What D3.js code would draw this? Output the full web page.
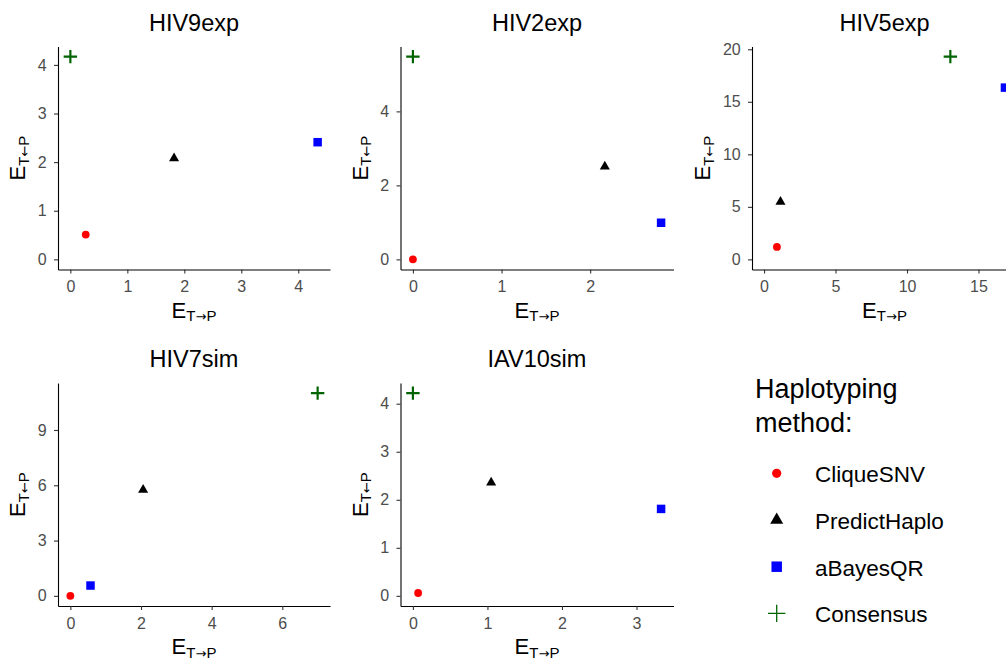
<!DOCTYPE html>
<html>
<head>
<meta charset="utf-8">
<script src="https://cdn.jsdelivr.net/npm/d3@7"></script>
<style>
body { margin: 0; background: #fff; }
text { font-family: "Liberation Sans", Arial, sans-serif; }
</style>
</head>
<body>
<div id="chart"></div>
<script>
// facets and methods
var datasets = ["HIV9exp", "HIV2exp", "HIV5exp", "HIV7sim", "IAV10sim"];
var methods = ["CliqueSNV", "PredictHaplo", "aBayesQR", "Consensus"];

// E(T->P) on x, E(T<-P) on y, one value per dataset
var cliqueX  = [0.27, 0,     0.90,  0,    0.07];
var cliqueY  = [0.51, 0,     1.18,  0,    0.06];
var predictX = [1.82, 2.165, 1.15,  2.06, 1.05];
var predictY = [2.08, 2.51,  5.48,  5.75, 2.36];
var abayesX  = [4.34, 2.80,  16.85, 0.57, 3.33];
var abayesY  = [2.41, 0.99,  16.35, 0.56, 1.81];
var consX    = [0,    0,     13.03, 7.0,  0];
var consY    = [4.17, 5.48,  19.3,  11.0, 4.22];

// tick labels per facet
var xTicks = [[0, 1, 2, 3, 4], [0, 1, 2], [0, 5, 10, 15], [0, 2, 4, 6], [0, 1, 2, 3]];
var yTicks = [[0, 1, 2, 3, 4], [0, 2, 4], [0, 5, 10, 15, 20], [0, 3, 6, 9], [0, 1, 2, 3, 4]];

var seriesX = [cliqueX, predictX, abayesX, consX];
var seriesY = [cliqueY, predictY, abayesY, consY];
var colors = ["#ff0000", "#000000", "#0000ff", "#006400"];

var svg = d3.select("#chart").append("svg")
        .attr("width", 1006)
        .attr("height", 662);

// panel boxes (theme_classic facet_wrap, 3 columns)
var panelLeft = [58, 400.5, 752, 58, 400.5];
var panelTop = [46.5, 46.5, 46.5, 383, 383];
var panelW = [272, 273, 265, 272, 273];
var panelH = 223;

function padded(vals) {
    var lo = Math.min(0, d3.min(vals));
    var hi = d3.max(vals);
    var pad = 0.05 * (hi - lo);
    return [lo - pad, hi + pad];
}

function markPath(k, big) {
    if (k == 1) return d3.symbol(d3.symbolTriangle, big ? 73 : 44)();
    if (k == 2) return d3.symbol(d3.symbolSquare, big ? 110 : 72)();
    var h = big ? 8.7 : 6.7;
    return "M" + (-h) + ",0H" + h + "M0," + (-h) + "V" + h;
}

function drawMark(g, k, cx, cy, big) {
    if (k == 0) {
        g.append("circle")
            .attr("cx", cx).attr("cy", cy)
            .attr("r", big ? 4.6 : 3.9)
            .attr("fill", colors[k]);
    } else if (k == 3) {
        g.append("path")
            .attr("d", markPath(k, big))
            .attr("transform", "translate(" + cx + "," + cy + ")")
            .attr("fill", "none")
            .attr("stroke", colors[k])
            .attr("stroke-width", big ? 1.3 : 2.2);
    } else {
        g.append("path")
            .attr("d", markPath(k, big))
            .attr("transform", "translate(" + cx + "," + cy + ")")
            .attr("fill", colors[k]);
    }
}

// "E" with a T-arrow-P subscript
function eLabel(t, arrow) {
    t.append("tspan").text("E");
    t.append("tspan").attr("font-size", 15).attr("dy", 3.4).text("T");
    t.append("tspan").attr("font-size", 13).attr("font-family", "DejaVu Sans")
        .text(arrow);
    t.append("tspan").attr("font-size", 15).text("P");
}

function drawPanel(i) {
    var left = panelLeft[i], top = panelTop[i];
    var xs = seriesX.map(function(s) { return s[i]; });
    var ys = seriesY.map(function(s) { return s[i]; });

    var x = d3.scaleLinear().domain(padded(xs)).range([left, left + panelW[i]]);
    var y = d3.scaleLinear().domain(padded(ys)).range([top + panelH, top]);

    var g = svg.append("g");

    // facet title
    g.append("text")
        .attr("x", left + panelW[i] / 2)
        .attr("y", top - 16)
        .attr("text-anchor", "middle")
        .attr("font-size", 23.5)
        .attr("fill", "#000")
        .text(datasets[i]);

    var fmt = d3.format("d");
    var xAxis = g.append("g")
        .attr("transform", "translate(0," + (top + panelH) + ")")
        .call(d3.axisBottom(x).tickValues(xTicks[i]).tickFormat(fmt)
              .tickSize(4).tickSizeOuter(0).tickPadding(7.5));
    var yAxis = g.append("g")
        .attr("transform", "translate(" + left + ",0)")
        .call(d3.axisLeft(y).tickValues(yTicks[i]).tickFormat(fmt)
              .tickSize(4).tickSizeOuter(0).tickPadding(7.3));

    [xAxis, yAxis].forEach(function(a) {
        a.select(".domain").attr("stroke", "#000").attr("stroke-width", 1.1);
        a.selectAll(".tick line").attr("stroke", "#333").attr("stroke-width", 1.1);
        a.selectAll(".tick text")
            .attr("font-family", "Liberation Sans, Arial, sans-serif")
            .attr("font-size", 16)
            .attr("fill", "#4d4d4d");
    });

    var xt = g.append("text")
        .attr("x", left + panelW[i] / 2)
        .attr("y", top + panelH + 48.3)
        .attr("text-anchor", "middle")
        .attr("font-size", 22)
        .attr("fill", "#000");
    eLabel(xt, "\u2192");

    // y title sits left of the widest tick label
    var labLeft = d3.min(yAxis.selectAll(".tick text").nodes(), function(n) {
        return n.getBBox().x;
    });
    var tx = left + labLeft - 12.5;
    var yt = g.append("text")
        .attr("transform", "translate(" + tx + "," + (top + panelH / 2) + ") rotate(-90)")
        .attr("text-anchor", "middle")
        .attr("font-size", 22)
        .attr("fill", "#000");
    eLabel(yt, "\u2190");

    // points
    for (var k = 0; k < methods.length; k++) {
        drawMark(g, k, x(xs[k]), y(ys[k]), false);
    }
}

for (var i = 0; i < datasets.length; i++) {
    drawPanel(i);
}

// legend in the empty facet slot
var leg = svg.append("g");
leg.append("text")
    .attr("x", 755).attr("y", 398.3)
    .attr("font-size", 27).attr("fill", "#000")
    .text("Haplotyping");
leg.append("text")
    .attr("x", 755).attr("y", 431.7)
    .attr("font-size", 27).attr("fill", "#000")
    .text("method:");

methods.forEach(function(m, k) {
    var cy = 473.3 + k * 46.7;
    drawMark(leg, k, 776.7, cy, true);
    leg.append("text")
        .attr("x", 815).attr("y", cy + 9)
        .attr("font-size", 22.5).attr("fill", "#000")
        .text(m);
});
</script>
</body>
</html>
